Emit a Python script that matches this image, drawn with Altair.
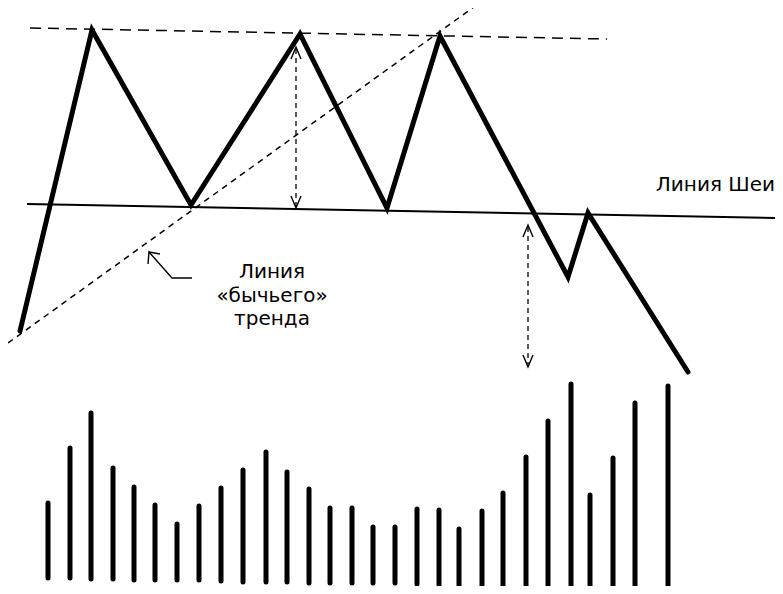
import altair as alt
import pandas as pd

# ---- data (picture coordinates: x to the right, level downward) ----
price_x = [20, 92, 191, 300, 387, 440, 568, 588, 688]
price_y = [331, 30, 205, 34, 208, 36, 277, 213, 372]

vol_x = [48, 70, 91, 113, 134, 155, 177, 199, 221, 243, 266, 287, 309, 330, 352,
         373, 395, 417, 439, 459, 482, 503, 526, 548, 571, 590, 613, 635, 668]
vol_top = [503, 448, 413, 468, 487, 505, 524, 506, 488, 470, 452, 472, 489, 508, 508,
           527, 527, 509, 510, 529, 511, 493, 457, 421, 384, 495, 458, 403, 386]
vol_bottom = [578, 578, 579, 579, 580, 580, 580, 580, 581, 582, 582, 582, 583, 583, 583,
              583, 583, 584, 585, 586, 587, 587, 587, 588, 588, 589, 589, 589, 590]

# polylines: id, x, y
neck_x, neck_y = [27, 779], [204, 218]
resist_x, resist_y = [30, 607], [28, 39]
bull_x, bull_y = [8, 478], [343, 4]
shaft_id = [0, 0, 1, 1]
shaft_x = [296, 296, 528, 528]
shaft_y = [49, 206, 227, 365]
head_id = [0, 0, 0, 1, 1, 1, 2, 2, 2, 3, 3, 3, 4, 4, 4, 4, 5, 5]
head_x = [291, 296, 301, 291, 296, 301, 523, 528, 533, 523, 528, 533,
          192, 172, 149, 148, 149, 160]
head_y = [59, 47, 59, 196, 208, 196, 237, 225, 237, 355, 367, 355,
          278, 278, 252, 264, 252, 254]

labels = ["Линия Шеи", "Линия", "«бычьего»", "тренда"]
label_x = [775, 272, 272, 272]
label_y = [191, 278, 302, 325]
label_align = ["right", "center", "center", "center"]

W, H = 767, 578
xs = alt.Scale(domain=[8, 8 + W], nice=False, zero=False)
ys = alt.Scale(domain=[8, 8 + H], nice=False, zero=False, reverse=True)


def X(f="x"):
    return alt.X(f"{f}:Q", scale=xs, axis=None)


def Y(f="y"):
    return alt.Y(f"{f}:Q", scale=ys, axis=None)


def poly(ids, xv, yv, **kw):
    df = pd.DataFrame({"id": ids, "o": range(len(xv)), "x": xv, "y": yv})
    return alt.Chart(df).mark_line(color="black", **kw).encode(
        x=X(), y=Y(), detail="id:N", order="o:Q"
    )


price = poly([0] * len(price_x), price_x, price_y,
             strokeWidth=5, strokeJoin="miter", strokeCap="round")

vol = alt.Chart(pd.DataFrame({"x": vol_x, "y": vol_top, "y2": vol_bottom})).mark_rule(
    color="black", strokeWidth=5, strokeCap="round"
).encode(x=X(), y=Y(), y2="y2:Q")

text_layers = []
for t, lx, ly, al in zip(labels, label_x, label_y, label_align):
    text_layers.append(
        alt.Chart(pd.DataFrame({"t": [t], "x": [lx], "y": [ly]})).mark_text(
            font="DejaVu Sans", fontSize=20, align=al, baseline="alphabetic", color="black"
        ).encode(x=X(), y=Y(), text="t:N")
    )

chart = alt.layer(
    poly([0, 0], neck_x, neck_y, strokeWidth=2),
    poly([0, 0], resist_x, resist_y, strokeWidth=1.5, strokeDash=[11, 7]),
    poly([0, 0], bull_x, bull_y, strokeWidth=1.5, strokeDash=[6, 5]),
    poly(shaft_id, shaft_x, shaft_y, strokeWidth=1.3, strokeDash=[5, 4]),
    poly(head_id, head_x, head_y, strokeWidth=1.4),
    price,
    vol,
    *text_layers,
).properties(width=W, height=H, padding=0, autosize=alt.AutoSizeParams(type="none")).configure_view(
    stroke=None
)

chart.save("out.html", embed_options={"renderer": "svg", "actions": False})
